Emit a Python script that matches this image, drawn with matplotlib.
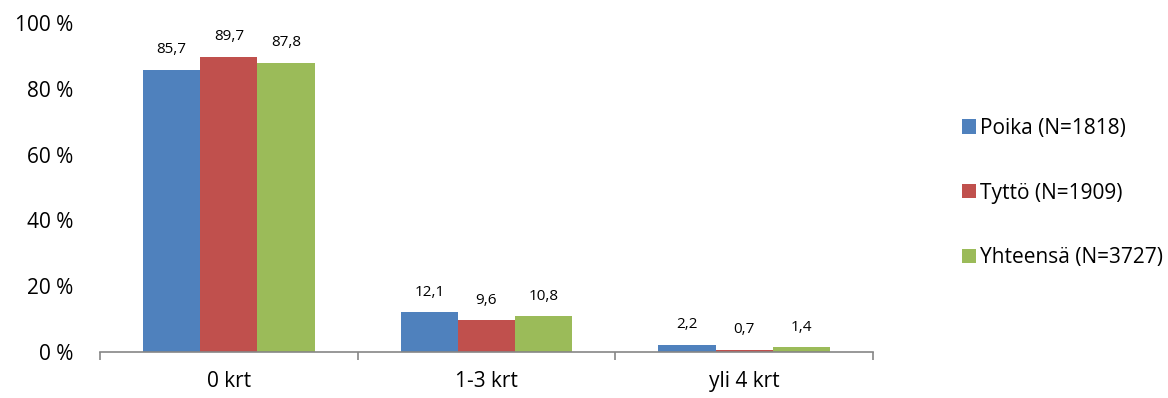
import numpy as np
import matplotlib.pyplot as plt
from matplotlib.patches import Patch

plt.rcParams['font.family'] = ['Open Sans', 'DejaVu Sans']

# Kuinka monta kertaa (%)
kategoriat = ['0 krt', '1-3 krt', 'yli 4 krt']
poika = [85.7, 12.1, 2.2]
tytto = [89.7, 9.6, 0.7]
yhteensa = [87.8, 10.8, 1.4]
sarjat = ['Poika (N=1818)', 'Tyttö (N=1909)', 'Yhteensä (N=3727)']
varit = ['#4F81BD', '#C0504D', '#9BBB59']

fig = plt.figure(figsize=(11.68, 3.98), dpi=100)
ax = fig.add_axes([100 / 1168, 46 / 398, 773 / 1168, 329 / 398])

x = np.arange(len(kategoriat)) + 0.5
w = 0.222
for i, (arvot, vari) in enumerate(zip([poika, tytto, yhteensa], varit)):
    pos = x + (i - 1) * w
    ax.bar(pos, arvot, width=w, color=vari, zorder=2)
    for xp, v in zip(pos, arvot):
        ax.annotate(f'{v:.1f}'.replace('.', ','), (xp, v), xytext=(0, 12),
                    textcoords='offset points', ha='center', va='baseline',
                    fontsize=11, color='#000000')

ax.set_xlim(0, 3)
ax.set_ylim(0, 100)
ax.set_yticks(range(0, 101, 20))
ax.set_yticklabels([f'{t} %' for t in range(0, 101, 20)], fontsize=15)
ax.tick_params(axis='y', length=0, pad=19)

# kategoriarajat tikkeinä, nimet keskelle
ax.set_xticks([0, 1, 2, 3])
ax.set_xticklabels([])
ax.set_xticks(x, minor=True)
ax.set_xticklabels(kategoriat, minor=True, fontsize=15)
ax.tick_params(axis='x', which='major', length=6, width=1.2, color='#868686')
ax.tick_params(axis='x', which='minor', length=0, pad=14)

for s in ['top', 'right', 'left']:
    ax.spines[s].set_visible(False)
ax.spines['bottom'].set_color('#868686')
ax.spines['bottom'].set_linewidth(1.2)

kahvat = [Patch(facecolor=c, edgecolor='none') for c in varit]
fig.legend(kahvat, sarjat, loc='center left', bbox_to_anchor=(962 / 1168, 1 - 193 / 398),
           frameon=False, fontsize=15, handlelength=0.67, handleheight=0.67,
           handletextpad=0.2, labelspacing=2.1, borderaxespad=0, borderpad=0)

fig.savefig('out.png', dpi=100)
